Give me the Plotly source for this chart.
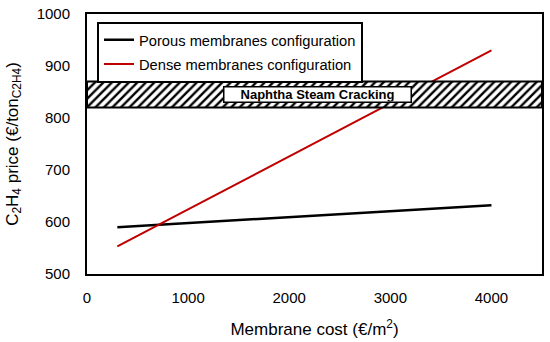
import plotly.graph_objects as go

cost = [300, 4000]
porous = [590, 632]
dense = [553, 930]
band_low, band_high = 820, 870
band_x = [0, 4500]
band_label = "Naphtha Steam Cracking"

fig = go.Figure()

fig.add_trace(go.Scatter(x=cost, y=porous, mode="lines",
                         line=dict(color="black", width=2.5), legendgroup="a",
                         name="Porous membranes configuration"))
fig.add_trace(go.Scatter(x=cost, y=dense, mode="lines",
                         line=dict(color="#c00000", width=2), legendgroup="b",
                         name="Dense membranes configuration"))

# band drawn on an overlaying axis pair so it sits above the lines
fig.add_trace(go.Scatter(
    x=[band_x[0], band_x[1], band_x[1], band_x[0], band_x[0]],
    y=[band_low, band_low, band_high, band_high, band_low],
    xaxis="x2", yaxis="y2",
    fill="toself", mode="lines",
    line=dict(color="black", width=2),
    fillcolor="white",
    fillpattern=dict(shape="/", fgcolor="black", bgcolor="white", size=6, solidity=0.4,
                     fillmode="replace"),
    showlegend=False, hoverinfo="skip"))

fig.add_annotation(x=2275, y=(band_low + band_high) / 2, text="<b>" + band_label + "</b>",
                   showarrow=False, bgcolor="white", bordercolor="black", borderwidth=1.5,
                   font=dict(size=13, color="black"), borderpad=0, width=186, height=14)

axis_common = dict(showgrid=False, zeroline=False, showline=True, linecolor="black",
                   linewidth=2, mirror=True, ticks="", tickfont=dict(size=15, color="black"),
                   automargin=False)

fig.update_layout(
    width=550, height=342,
    margin=dict(l=87, r=8, t=14, b=68),
    paper_bgcolor="white", plot_bgcolor="white",
    font=dict(family="Liberation Sans, Arial, sans-serif", color="black"),
    xaxis=dict(range=[0, 4500], tickvals=[0, 1000, 2000, 3000, 4000], ticklabelstandoff=9,
               title=dict(text="Membrane cost (€/m<sup>2</sup>)", font=dict(size=17), standoff=18),
               **axis_common),
    yaxis=dict(range=[500, 1000], tickvals=[500, 600, 700, 800, 900, 1000], ticklabelstandoff=12,
               title=dict(text="C<sub>2</sub>H<sub>4</sub> price (€/ton<sub>C2H4</sub>)", font=dict(size=17), standoff=14),
               **axis_common),
    xaxis2=dict(range=[0, 4500], overlaying="x", visible=False),
    yaxis2=dict(range=[500, 1000], overlaying="y", visible=False),
    legend=dict(x=0.022, y=0.97, xanchor="left", yanchor="top",
                bgcolor="white", bordercolor="black", borderwidth=2,
                font=dict(size=14.7), tracegroupgap=2, itemwidth=30),
)

fig.write_html("out.html", post_script="document.body.style.margin='0';",
               config={"displayModeBar": False})
